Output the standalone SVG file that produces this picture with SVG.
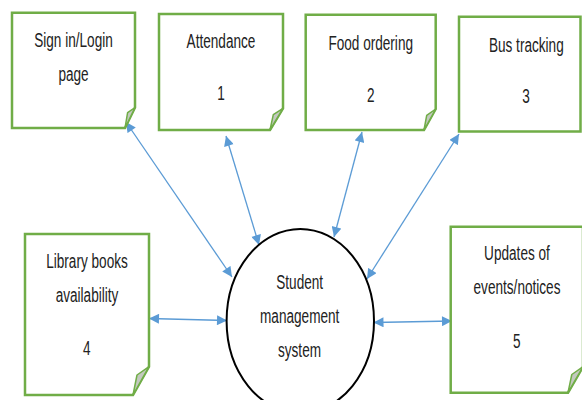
<svg xmlns="http://www.w3.org/2000/svg" width="582" height="400" viewBox="0 0 582 400">
<style>
.box{fill:#fff;stroke:#70AD47;stroke-width:2.5;stroke-linejoin:miter}
.fold{fill:#c3c9bf;stroke:#70AD47;stroke-width:1.5;stroke-linejoin:round}
.t{font-family:"Liberation Sans",Arial,sans-serif;font-size:20px;fill:#222;text-anchor:middle}
.con{stroke:#5B9BD5;stroke-width:1.3;fill:none;marker-start:url(#ah);marker-end:url(#ah)}
</style>
<defs>
<marker id="ah" viewBox="0 0 10 10" refX="10" refY="5" markerWidth="11" markerHeight="10" markerUnits="userSpaceOnUse" orient="auto-start-reverse">
<path d="M0,0 L10,5 L0,10 Z" fill="#5B9BD5"/>
</marker>
</defs>
<rect width="582" height="400" fill="#fff"/>

<g id="connectors">
<line class="con" x1="126" y1="122" x2="232" y2="277"/>
<line class="con" x1="226" y1="136" x2="259" y2="245"/>
<line class="con" x1="362" y1="132" x2="334" y2="237"/>
<line class="con" x1="459" y1="134" x2="367" y2="279"/>
<line class="con" x1="149" y1="318.5" x2="227" y2="320.5"/>
<line class="con" x1="373.5" y1="322.5" x2="452" y2="321"/>
</g>

<g id="node-signin">
<path class="box" d="M12,12.7 H135 V107.5 L125,128 H12 Z"/>
<path class="fold" d="M135,107.5 L125,128 L127.6,112.6 Z"/>
<text class="t" transform="translate(73.5,46.5) scale(0.68,1)">Sign in/Login</text>
<text class="t" transform="translate(73.5,80.5) scale(0.68,1)">page</text>
</g>

<g id="node-attendance">
<path class="box" d="M159,14 H283 V108.3 L270,130 H159 Z"/>
<path class="fold" d="M283,108.3 L270,130 L273.3,114.6 Z"/>
<text class="t" transform="translate(221,48.3) scale(0.68,1)">Attendance</text>
<text class="t" transform="translate(221,100) scale(0.68,1)">1</text>
</g>

<g id="node-food">
<path class="box" d="M305.7,14.7 H435.7 V109 L424,130 H305.7 Z"/>
<path class="fold" d="M435.7,109 L424,130 L426.7,115.3 Z"/>
<text class="t" transform="translate(370.7,49.5) scale(0.68,1)">Food ordering</text>
<text class="t" transform="translate(370.7,101.7) scale(0.68,1)">2</text>
</g>

<g id="node-bus">
<path class="box" d="M459,16.7 H580.5 V131.5 H459 Z"/>
<text class="t" transform="translate(526.3,51.5) scale(0.68,1)">Bus tracking</text>
<text class="t" transform="translate(526,103.3) scale(0.68,1)">3</text>
</g>

<g id="node-library">
<path class="box" d="M25,234 H149 V366.7 L133,395 H25 Z"/>
<path class="fold" d="M149,366.7 L133,395 L137,375 Z"/>
<text class="t" transform="translate(87,268.3) scale(0.68,1)">Library books</text>
<text class="t" transform="translate(87,301.7) scale(0.68,1)">availability</text>
<text class="t" transform="translate(86.7,355) scale(0.68,1)">4</text>
</g>

<g id="node-updates">
<path class="box" d="M450.7,226.7 H583 V366.7 L568,392.7 H450.7 Z"/>
<path class="fold" d="M583,366.7 L568,392.7 L571.8,374.5 Z"/>
<text class="t" transform="translate(517,260) scale(0.68,1)">Updates of</text>
<text class="t" transform="translate(517,294) scale(0.68,1)">events/notices</text>
<text class="t" transform="translate(516.7,348.3) scale(0.68,1)">5</text>
</g>

<g id="node-system">
<ellipse cx="300.3" cy="321" rx="73.7" ry="92" fill="#fff" stroke="#000" stroke-width="2"/>
<text class="t" transform="translate(299.7,289.3) scale(0.68,1)">Student</text>
<text class="t" transform="translate(299.7,322.7) scale(0.68,1)">management</text>
<text class="t" transform="translate(299.5,357) scale(0.68,1)">system</text>
</g>
</svg>
